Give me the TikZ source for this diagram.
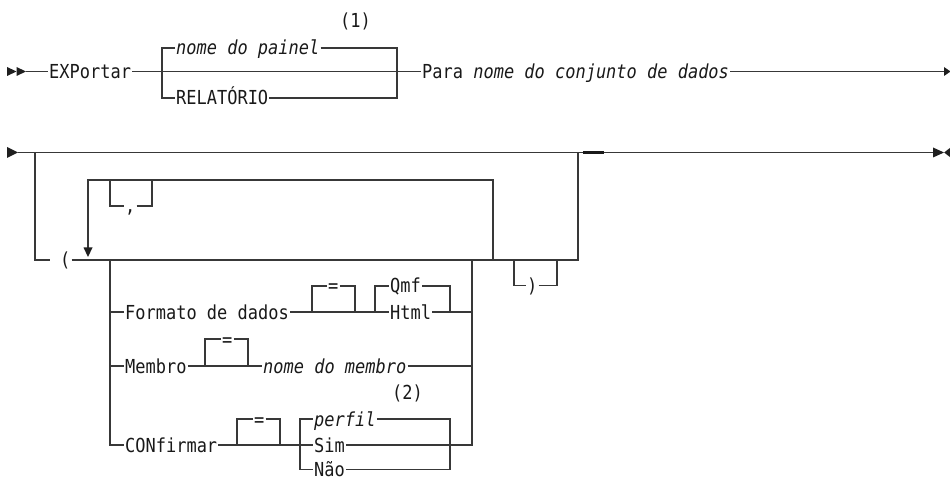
\documentclass[tikz,border=0pt]{standalone}
\usepackage{fontspec}
\setmonofont[FakeStretch=0.88]{DejaVu Sans Mono}
\begin{document}
\begin{tikzpicture}[x=1pt,y=-1pt,
  rr/.style={line width=1.2pt, draw=black!78, line join=miter},
  txt/.style={inner xsep=1pt, inner ysep=0pt, text height=14pt, text depth=0pt,
    anchor=west, text=black!90, font=\ttfamily\fontsize{19.3}{21}\selectfont},
  tip/.style={fill=black!88, draw=none},
  heavy/.style={line width=2.2pt, draw=black!90}]
\useasboundingbox (0,0) rectangle (950,478);

% ---------------- Row 1 ----------------
\fill[tip] (7,67) -- (16.5,71.5) -- (7,76) -- cycle;
\fill[tip] (16.5,67) -- (26,71.5) -- (16.5,76) -- cycle;
\coordinate (s1) at (26,71.5);
\node[txt] (exp) at (48,71.5) {EXPortar};
\coordinate (b1l) at (162,71.5);
\coordinate (b1r) at (397,71.5);
\coordinate (b1lt) at (162,48);
\coordinate (b1lb) at (162,98);
\coordinate (b1rt) at (397,48);
\coordinate (b1rb) at (397,98);
\node[txt] (painel) at (175,48) {\itshape nome do painel};
\node[txt] (rel) at (175,98) {RELATÓRIO};
\node[txt] (n1) at (339,21) {(1)};
\node[txt] (para) at (421,71.5) {Para \textit{nome do conjunto de dados}};
\coordinate (e1) at (944,71.5);
\draw[rr] (s1) -- (exp.west);
\draw[rr] (exp.east) -- (b1l) -- (b1r) -- (para.west);
\draw[rr] (painel.west) -- (b1lt) -- (b1lb) -- (rel.west);
\draw[rr] (painel.east) -- (b1rt) -- (b1rb) -- (rel.east);
\draw[rr] (para.east) -- (e1);
\fill[tip] (944,67) -- (950.5,71.5) -- (944,76) -- cycle;

% ---------------- Row 2 ----------------
\fill[tip] (7,147) -- (18,152.5) -- (7,158) -- cycle;
\coordinate (s2) at (18,152.5);
\coordinate (v0t) at (35,152.5);
\coordinate (v0b) at (35,260);
\coordinate (ob) at (50,260);
\node[txt] (lp) at (59,260) {(};
\coordinate (r2e) at (578,152.5);
\coordinate (m1) at (493,260);
\coordinate (m2) at (514,260);
\coordinate (m3) at (557,260);
\coordinate (m4) at (578,260);
\coordinate (e2) at (933,152.5);
\draw[rr] (s2) -- (v0t) -- (r2e) -- (e2);
\draw[rr] (v0t) -- (v0b) -- (ob);
\draw[rr] (lp.east) -- (m4) -- (r2e);
\draw[heavy] (583,152.5) -- (604,152.5);
\fill[tip] (933,147.5) -- (944,152.5) -- (933,157.5) -- cycle;
\fill[tip] (950.5,147.5) -- (944.2,152.5) -- (950.5,157.5) -- cycle;

% repeat loop
\coordinate (lt1) at (88,180);
\coordinate (lt2) at (493,180);
\coordinate (lb) at (88,248);
\draw[rr] (lb) -- (lt1) -- (lt2) -- (m1);
\fill[tip] (83.5,247.5) -- (92.5,247.5) -- (88,257) -- cycle;
\node[txt] (comma) at (124,206) {,};
\coordinate (c1) at (110,180);
\coordinate (c2) at (110,206);
\coordinate (c3) at (152,206);
\coordinate (c4) at (152,180);
\draw[rr] (c1) -- (c2) -- (comma.west);
\draw[rr] (comma.east) -- (c3) -- (c4);

% closing paren
\node[txt] (rp) at (526,285.5) {)};
\coordinate (p1) at (514,285.5);
\coordinate (p2) at (557,285.5);
\draw[rr] (m2) -- (p1) -- (rp.west);
\draw[rr] (rp.east) -- (p2) -- (m3);

% option stack verticals
\coordinate (vl0) at (110,260);
\coordinate (vl3) at (110,445);
\coordinate (vr0) at (472,260);
\coordinate (vr3) at (472,445);

% ---------------- Formato de dados ----------------
\coordinate (f0) at (110,312);
\node[txt] (fmt) at (124,312) {Formato de dados};
\node[txt] (eq1) at (327,286) {=};
\node[txt] (qmf) at (389,286) {Qmf};
\node[txt] (html) at (389,312) {Html};
\coordinate (q1) at (312,312);
\coordinate (q2) at (312,286);
\coordinate (q3) at (355,286);
\coordinate (q4) at (355,312);
\coordinate (h1) at (375,312);
\coordinate (h2) at (375,286);
\coordinate (h3) at (450,286);
\coordinate (h4) at (450,312);
\coordinate (f9) at (472,312);
\draw[rr] (f0) -- (fmt.west);
\draw[rr] (fmt.east) -- (html.west);
\draw[rr] (q1) -- (q2) -- (eq1.west);
\draw[rr] (eq1.east) -- (q3) -- (q4);
\draw[rr] (h1) -- (h2) -- (qmf.west);
\draw[rr] (qmf.east) -- (h3) -- (h4);
\draw[rr] (html.east) -- (f9);

% ---------------- Membro ----------------
\coordinate (g0) at (110,366);
\node[txt] (mem) at (124,366) {Membro};
\node[txt] (eq2) at (221,339) {=};
\node[txt] (nmem) at (262,366) {\itshape nome do membro};
\coordinate (k1) at (205,366);
\coordinate (k2) at (205,339);
\coordinate (k3) at (248,339);
\coordinate (k4) at (248,366);
\coordinate (g9) at (472,366);
\draw[rr] (g0) -- (mem.west);
\draw[rr] (mem.east) -- (nmem.west);
\draw[rr] (k1) -- (k2) -- (eq2.west);
\draw[rr] (eq2.east) -- (k3) -- (k4);
\draw[rr] (nmem.east) -- (g9);
\node[txt] (n2) at (391,392) {(2)};

% ---------------- CONfirmar ----------------
\node[txt] (conf) at (124,445) {CONfirmar};
\node[txt] (eq3) at (253,419) {=};
\node[txt] (perf) at (313,419) {\itshape perfil};
\node[txt] (sim) at (313,445) {Sim};
\node[txt] (nao) at (313,469.5) {Não};
\coordinate (u1) at (237,445);
\coordinate (u2) at (237,419);
\coordinate (u3) at (280,419);
\coordinate (u4) at (280,445);
\coordinate (w1) at (300,419);
\coordinate (w2) at (300,469.5);
\coordinate (w3) at (450,419);
\coordinate (w4) at (450,469.5);
\draw[rr] (vl0) -- (vl3) -- (conf.west);
\draw[rr] (conf.east) -- (sim.west);
\draw[rr] (u1) -- (u2) -- (eq3.west);
\draw[rr] (eq3.east) -- (u3) -- (u4);
\draw[rr] (perf.west) -- (w1) -- (w2) -- (nao.west);
\draw[rr] (perf.east) -- (w3) -- (w4) -- (nao.east);
\draw[rr] (sim.east) -- (vr3) -- (vr0);
\end{tikzpicture}
\end{document}
